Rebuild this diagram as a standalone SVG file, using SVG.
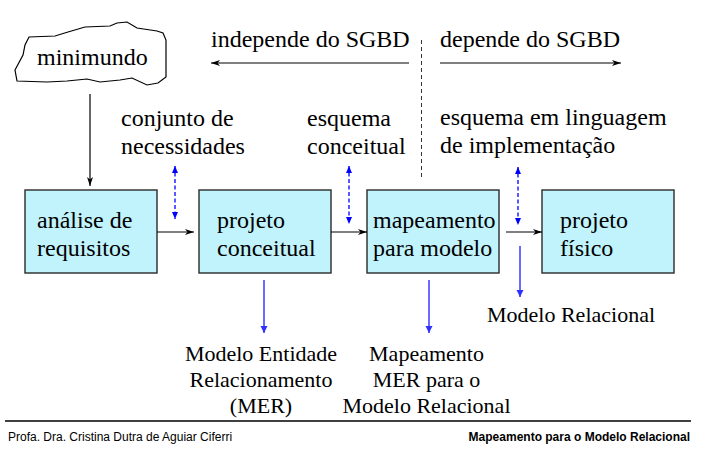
<svg xmlns="http://www.w3.org/2000/svg" width="709" height="462" viewBox="0 0 709 462">
<style>
  .t { font-family: "Liberation Serif", "Times New Roman", serif; font-size: 24px; fill: #000; }
  .s { font-family: "Liberation Serif", "Times New Roman", serif; font-size: 22px; fill: #000; }
  .f { font-family: "Liberation Sans", Arial, sans-serif; font-size: 12px; fill: #000; }
  .box { fill: #C1F3FD; stroke: #2a2a2a; stroke-width: 1.4; }
  .blk { stroke: #000; stroke-width: 1.2; fill: none; }
  .dash { stroke: #0000FF; stroke-width: 1.3; stroke-dasharray: 4 2.5; fill: none; }
  .blu { stroke: #6b6bff; stroke-width: 2; fill: none; }
</style>
<defs>
  <marker id="ab" markerWidth="10" markerHeight="8" refX="9" refY="4" orient="auto" markerUnits="userSpaceOnUse">
    <path d="M0,1 L9,4 L0,7 L2.5,4 Z" fill="#000"/>
  </marker>
  <marker id="abs" markerWidth="10" markerHeight="8" refX="1" refY="4" orient="auto" markerUnits="userSpaceOnUse">
    <path d="M10,1 L1,4 L10,7 L7.5,4 Z" fill="#000"/>
  </marker>
  <marker id="bb" markerWidth="8" markerHeight="8" refX="7" refY="4" orient="auto" markerUnits="userSpaceOnUse">
    <path d="M0,1 L7,4 L0,7 Z" fill="#0000FF"/>
  </marker>
  <marker id="bbs" markerWidth="8" markerHeight="8" refX="1" refY="4" orient="auto" markerUnits="userSpaceOnUse">
    <path d="M8,1 L1,4 L8,7 Z" fill="#0000FF"/>
  </marker>
  <marker id="lb" markerWidth="9" markerHeight="8" refX="7" refY="4" orient="auto" markerUnits="userSpaceOnUse">
    <path d="M0,0.5 L7,4 L0,7.5 Z" fill="#3030ff"/>
  </marker>
</defs>

<rect width="709" height="462" fill="#fff"/>

<g id="minimundo">
  <path d="M29,37 L55,36 L68,32 L85,27 L110,26 L117,23 L127,22 L137,28 L157,31 L163,33 L166,40 L166,77 L158,83 L147,85 L132,78 L120,80 L100,82 L87,79 L67,81 L47,82 L17,81 L15,70 L23,55 L25,45 Z" fill="#fff" stroke="#000" stroke-width="1.2"/>
  <text class="t" x="37" y="65">minimundo</text>
</g>

<g id="labels-top">
  <text class="t" x="211" y="47">independe do SGBD</text>
  <text class="t" x="440" y="47">depende do SGBD</text>
  <text class="t" x="121" y="126">conjunto de</text>
  <text class="t" x="121" y="154">necessidades</text>
  <text class="t" x="307" y="126">esquema</text>
  <text class="t" x="307" y="154">conceitual</text>
  <text class="t" x="440" y="125">esquema em linguagem</text>
  <text class="t" x="440" y="153">de implementação</text>
</g>

<g id="analise">
  <rect class="box" x="25" y="190" width="132" height="83"/>
  <text class="t" x="37" y="228">análise de</text>
  <text class="t" x="37" y="256">requisitos</text>
</g>
<g id="projeto-conceitual">
  <rect class="box" x="199" y="190" width="132" height="83"/>
  <text class="t" x="217" y="228">projeto</text>
  <text class="t" x="217" y="256">conceitual</text>
</g>
<g id="mapeamento">
  <rect class="box" x="367" y="190" width="132" height="83"/>
  <text class="t" x="373" y="228">mapeamento</text>
  <text class="t" x="373" y="256">para modelo</text>
</g>
<g id="projeto-fisico">
  <rect class="box" x="542" y="190" width="132" height="83"/>
  <text class="t" x="560" y="228">projeto</text>
  <text class="t" x="560" y="256">físico</text>
</g>

<g id="labels-bottom">
  <text class="s" x="261" y="361" text-anchor="middle">Modelo Entidade</text>
  <text class="s" x="261" y="387" text-anchor="middle">Relacionamento</text>
  <text class="s" x="261" y="413" text-anchor="middle">(MER)</text>
  <text class="s" x="426.5" y="361" text-anchor="middle">Mapeamento</text>
  <text class="s" x="426.5" y="387" text-anchor="middle">MER para o</text>
  <text class="s" x="426.5" y="413" text-anchor="middle">Modelo Relacional</text>
  <text class="s" x="487" y="322">Modelo Relacional</text>
</g>

<g id="connectors">
  <line class="blk" x1="409" y1="63" x2="211" y2="63" marker-end="url(#ab)"/>
  <line class="blk" x1="440" y1="63" x2="621" y2="63" marker-end="url(#ab)"/>
  <line x1="421.5" y1="40" x2="421.5" y2="178" stroke="#333" stroke-width="1" stroke-dasharray="4 3"/>
  <line class="blk" x1="90" y1="94" x2="90" y2="186" marker-end="url(#ab)"/>
  <line class="blk" x1="157" y1="232" x2="194" y2="232" marker-end="url(#ab)"/>
  <line class="blk" x1="331" y1="232" x2="367" y2="232" marker-end="url(#ab)"/>
  <line class="blk" x1="506" y1="232" x2="542" y2="232" marker-end="url(#ab)"/>
  <line class="dash" x1="175" y1="166" x2="175" y2="219" marker-start="url(#bbs)" marker-end="url(#bb)"/>
  <line class="dash" x1="349" y1="166" x2="349" y2="224" marker-start="url(#bbs)" marker-end="url(#bb)"/>
  <line class="dash" x1="518" y1="167" x2="518" y2="225" marker-start="url(#bbs)" marker-end="url(#bb)"/>
  <line class="blu" x1="264" y1="280" x2="264" y2="333" marker-end="url(#lb)"/>
  <line class="blu" x1="429" y1="280" x2="429" y2="333" marker-end="url(#lb)"/>
  <line class="blu" x1="520" y1="246" x2="520" y2="297" marker-end="url(#lb)"/>
</g>

<g id="footer">
  <line x1="5" y1="421" x2="691" y2="421" stroke="#000" stroke-width="1.5"/>
  <text class="f" x="8" y="441">Profa. Dra. Cristina Dutra de Aguiar Ciferri</text>
  <text class="f" x="690" y="441" text-anchor="end" font-weight="bold">Mapeamento para o Modelo Relacional</text>
</g>
</svg>
